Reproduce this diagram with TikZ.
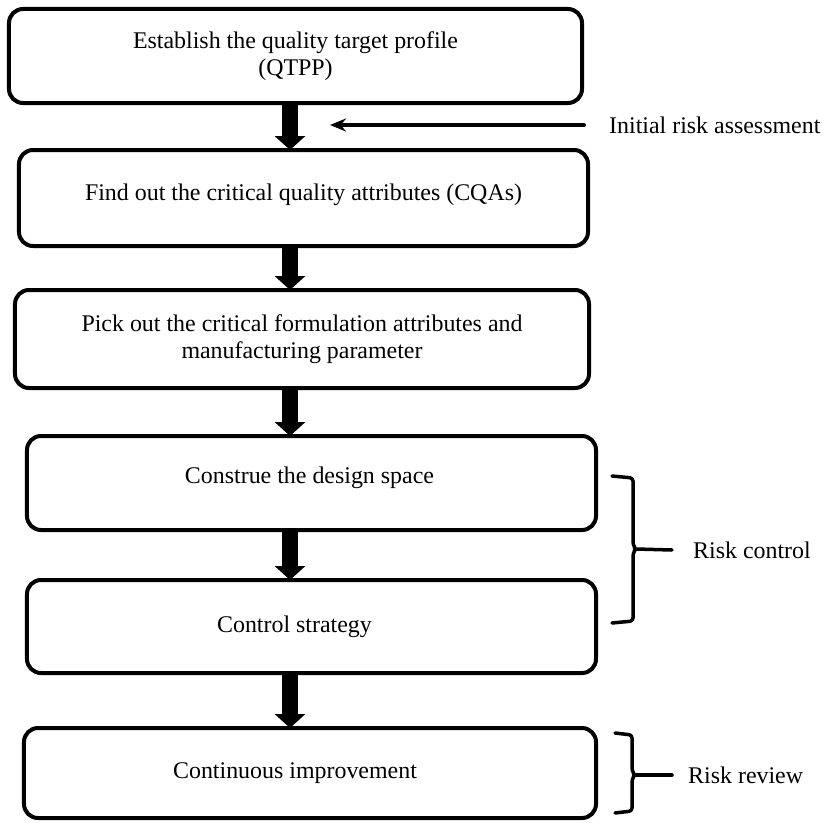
\documentclass[tikz,border=0pt]{standalone}
\usepackage{fontspec}
\setmainfont{Liberation Serif}
\usetikzlibrary{arrows.meta}
\begin{document}
\begin{tikzpicture}[x=1bp,y=-1bp,line join=round,line cap=round,
		font=\fontsize{24}{27}\selectfont,
		stepbox/.style={draw,line width=4bp,rounded corners=14bp,inner sep=0pt,outer sep=0pt,align=center},
		blockarrow/.style={line width=16bp,line cap=butt,-{Triangle[length=14bp,width=30bp]}},
		riskarrow/.style={line width=4bp,-{Stealth[length=16bp,width=13bp]}},
		bracket/.style={line width=3.5bp,rounded corners=3bp}]
			\useasboundingbox (0,0) rectangle (824,823);
			\coordinate (spine) at (290,0);
			\node[stepbox,minimum width=573bp,minimum height=94bp] (b1) at (295.5,56) {Establish the quality target profile\\(QTPP)};
			\node[stepbox,minimum width=569bp,minimum height=96bp,label={[yshift=3bp]center:Find out the critical quality attributes (CQAs)}] (b2) at (303.5,198) {};
			\node[stepbox,minimum width=574bp,minimum height=98bp] (b3) at (302,339) {Pick out the critical formulation attributes and\\manufacturing parameter};
			\node[stepbox,minimum width=569bp,minimum height=94bp,label={[yshift=5bp,xshift=-2bp]center:Construe the design space}] (b4) at (311.5,483) {};
			\node[stepbox,minimum width=569bp,minimum height=93bp,label={[xshift=-17bp]center:Control strategy}] (b5) at (311.5,626.5) {};
			\node[stepbox,minimum width=572bp,minimum height=90bp,label={[xshift=-15bp]center:Continuous improvement}] (b6) at (310,773) {};
			\draw[blockarrow] (b1.south -| spine) -- (b2.north -| spine);
			\draw[blockarrow] (b2.south -| spine) -- (b3.north -| spine);
			\draw[blockarrow] (b3.south -| spine) -- (b4.north -| spine);
			\draw[blockarrow] (b4.south -| spine) -- (b5.north -| spine);
			\draw[blockarrow] (b5.south -| spine) -- (b6.north -| spine);
			\node[anchor=west,inner sep=0pt] (ira) at (609,125) {Initial risk assessment};
			\coordinate (iratip) at (330,125);
			\draw[riskarrow] ([xshift=-25bp]ira.west) -- (iratip);
			\node[anchor=west,inner sep=0pt] (rc) at (693,550) {Risk control};
			\draw[bracket] (612,476) -- (633,478) -- (633,545) -- (636,549) -- (633,553) -- (633,621) -- (612,623);
			\draw[bracket] (636,549) -- ([xshift=-21bp]rc.west);
			\node[anchor=west,inner sep=0pt] (rr) at (688,775) {Risk review};
			\draw[bracket] (615,733) -- (632,735) -- (632,771) -- (635,775) -- (632,779) -- (632,811) -- (615,813);
			\draw[bracket] (635,775) -- ([xshift=-16bp]rr.west);
		\end{tikzpicture}
\end{document}
